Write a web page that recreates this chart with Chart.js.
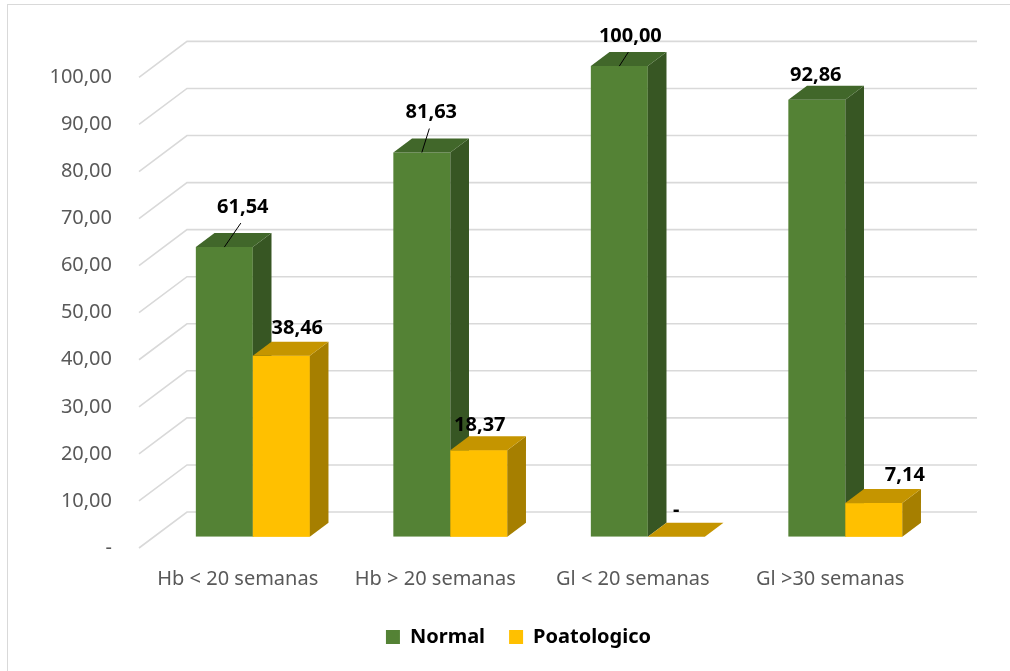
<!DOCTYPE html>
<html>
<head>
<meta charset="utf-8">
<title>Hb y Gl por semanas</title>
<script src="https://cdn.jsdelivr.net/npm/chart.js@4.4.1/dist/chart.umd.min.js"></script>
<style>
  html, body { margin: 0; padding: 0; background: #fff; }
  #wrap { position: relative; width: 1010px; height: 671px; overflow: hidden; }
  #frame { position: absolute; left: 7px; top: 4px; width: 1100px; height: 800px; border: 1.5px solid #d9d9d9; box-sizing: border-box; }
  #chart { position: absolute; left: 0; top: 0; }
</style>
</head>
<body>
<div id="wrap">
  <div id="frame"></div>
  <canvas id="chart" width="1010" height="671"></canvas>
</div>
<script>
// series
const categories = ['Hb < 20 semanas', 'Hb > 20 semanas', 'Gl < 20 semanas', 'Gl >30 semanas'];
const normalValues = [61.54, 81.63, 100.00, 92.86];
const patologicoValues = [38.46, 18.37, 0, 7.14];
const seriesNames = ['Normal', 'Poatologico'];
const yMin = 0, yMax = 100, yStep = 10;

// box colours: front, top, side
const faceColors = [
    { front: '#548235', top: '#41672a', side: '#375623' },
    { front: '#ffc000', top: '#c59500', side: '#a67f00' }
];

// fake perspective: full floor depth and where the bars sit inside it
const DEPTH = { x: 48, y: -36 };
const BAR_FRONT = 0.314;
const BAR_BACK = 0.703;

// hand-placed value labels (offset from the top front edge centre) + leader lines
const labelShift = [
    [[18.5, -40], [9.5, -40], [11, -30], [-1, -24]],
    [[16, -27], [1, -25], [0, -26], [31, -28]]
];
const labelLeader = [
    [true, true, true, false],
    [false, false, false, false]
];

// legend sits centred on the whole frame, not on the plot
const LEGEND_SHIFT = 54;

const fmt = v => v === 0 ? '-' : v.toFixed(2).replace('.', ',');
const FONT = '"Noto Sans", "Open Sans", sans-serif';

const box3d = {
    id: 'box3d',
    afterLayout(chart) {
        chart.legend.left += LEGEND_SHIFT;
        chart.legend.right += LEGEND_SHIFT;
    },
    beforeDatasetsDraw(chart) {
        const { ctx, chartArea, scales: { y } } = chart;
        // side wall + back wall gridlines
        ctx.save();
        ctx.strokeStyle = '#d9d9d9';
        ctx.lineWidth = 1.6;
        y.ticks.forEach(t => {
            const py = y.getPixelForValue(t.value);
            ctx.beginPath();
            ctx.moveTo(chartArea.left, py);
            ctx.lineTo(chartArea.left + DEPTH.x, py + DEPTH.y);
            ctx.lineTo(chartArea.right + DEPTH.x, py + DEPTH.y);
            ctx.stroke();
        });
        ctx.restore();
        // push the bars back into the floor
        ctx.save();
        ctx.translate(DEPTH.x * BAR_FRONT, DEPTH.y * BAR_FRONT);
    },
    afterDatasetsDraw(chart) {
        const { ctx } = chart;
        const bx = DEPTH.x * (BAR_BACK - BAR_FRONT);
        const by = DEPTH.y * (BAR_BACK - BAR_FRONT);
        const metas = [chart.getDatasetMeta(0), chart.getDatasetMeta(1)];

        categories.forEach((c, i) => {
            metas.forEach((meta, d) => {
                const bar = meta.data[i].getProps(['x', 'y', 'base', 'width'], true);
                const l = bar.x - bar.width / 2, r = bar.x + bar.width / 2;
                const col = faceColors[d];
                if (d > 0) {
                    // redraw front so it covers the previous bar's side
                    ctx.fillStyle = col.front;
                    ctx.fillRect(l, bar.y, bar.width, bar.base - bar.y);
                }
                ctx.fillStyle = col.side;
                ctx.beginPath();
                ctx.moveTo(r, bar.y);
                ctx.lineTo(r + bx, bar.y + by);
                ctx.lineTo(r + bx, bar.base + by);
                ctx.lineTo(r, bar.base);
                ctx.closePath();
                ctx.fill();

                ctx.fillStyle = col.top;
                ctx.beginPath();
                ctx.moveTo(l, bar.y);
                ctx.lineTo(l + bx, bar.y + by);
                ctx.lineTo(r + bx, bar.y + by);
                ctx.lineTo(r, bar.y);
                ctx.closePath();
                ctx.fill();
            });
        });
        ctx.restore();

        // value labels
        ctx.save();
        ctx.font = 'bold 20px ' + FONT;
        ctx.fillStyle = '#000';
        ctx.strokeStyle = '#000';
        ctx.lineWidth = 1;
        ctx.textAlign = 'center';
        ctx.textBaseline = 'middle';
        metas.forEach((meta, d) => {
            const values = chart.data.datasets[d].data;
            meta.data.forEach((el, i) => {
                const bar = el.getProps(['x', 'y'], true);
                const sx = bar.x + DEPTH.x * BAR_FRONT;
                const sy = bar.y + DEPTH.y * BAR_FRONT;
                const lx = sx + labelShift[d][i][0];
                const ly = sy + labelShift[d][i][1];
                if (labelLeader[d][i]) {
                    ctx.beginPath();
                    ctx.moveTo(lx - 2, ly + 16);
                    ctx.lineTo(sx, sy);
                    ctx.stroke();
                }
                ctx.fillText(fmt(values[i]), lx, ly);
            });
        });
        ctx.restore();
    }
};

new Chart(document.getElementById('chart'), {
    type: 'bar',
    data: {
        labels: categories,
        datasets: [
            { label: seriesNames[0], data: normalValues, backgroundColor: faceColors[0].front, borderWidth: 0 },
            { label: seriesNames[1], data: patologicoValues, backgroundColor: faceColors[1].front, borderWidth: 0 }
        ]
    },
    options: {
        responsive: false,
        animation: false,
        categoryPercentage: 0.577,
        barPercentage: 1,
        layout: { padding: { left: 0, right: 81, top: 77.4, bottom: 14 } },
        plugins: {
            tooltip: { enabled: false },
            legend: {
                position: 'bottom',
                labels: {
                    boxWidth: 14,
                    boxHeight: 14,
                    padding: 24,
                    color: '#000',
                    font: { family: FONT, size: 20, weight: 'bold' }
                }
            }
        },
        scales: {
            x: {
                grid: { display: false, drawTicks: false },
                border: { display: false },
                ticks: { color: '#595959', padding: 19, font: { family: FONT, size: 20 } },
                afterFit(scale) { scale.height = 55; }
            },
            y: {
                min: yMin,
                max: yMax,
                grid: { display: false, drawTicks: false },
                border: { display: false },
                ticks: {
                    stepSize: yStep,
                    color: '#595959',
                    padding: 27,
                    font: { family: FONT, size: 20 },
                    callback: v => fmt(v)
                },
                afterFit(scale) { scale.width = 139; }
            }
        }
    },
    plugins: [box3d]
});
</script>
</body>
</html>
